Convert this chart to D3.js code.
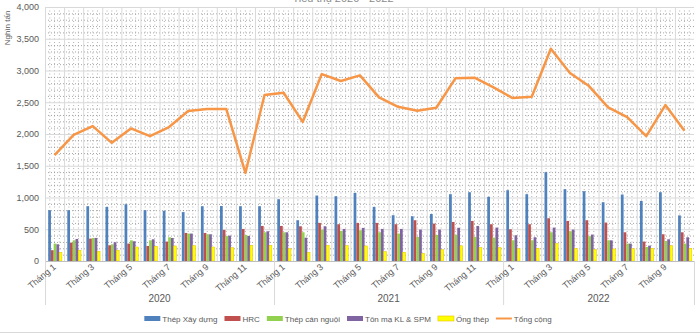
<!DOCTYPE html>
<html><head><meta charset="utf-8">
<script src="https://cdn.jsdelivr.net/npm/d3@7"></script>
<style>
body{margin:0;background:#fff;}
svg{display:block;font-family:"Liberation Sans", Arial, sans-serif;}
</style>
</head><body>
<svg id="c" width="700" height="333"></svg>
<script>
// ---- DATA ----
const years = ["2020", "2021", "2022"];
const monthsPerYear = [12, 12, 10];
const months = [
  "Tháng 1","Tháng 2","Tháng 3","Tháng 4","Tháng 5","Tháng 6","Tháng 7","Tháng 8","Tháng 9","Tháng 10","Tháng 11","Tháng 12",
  "Tháng 1","Tháng 2","Tháng 3","Tháng 4","Tháng 5","Tháng 6","Tháng 7","Tháng 8","Tháng 9","Tháng 10","Tháng 11","Tháng 12",
  "Tháng 1","Tháng 2","Tháng 3","Tháng 4","Tháng 5","Tháng 6","Tháng 7","Tháng 8","Tháng 9","Tháng 10"
];
const tickLabels = ["Tháng 1","Tháng 3","Tháng 5","Tháng 7","Tháng 9","Tháng 11"];
const yTicks = [0, 500, 1000, 1500, 2000, 2500, 3000, 3500, 4000];
const seriesNames = ["Thép Xây dựng", "HRC", "Thép cán nguội", "Tôn mạ KL & SPM", "Ống thép"];
const lineName = "Tổng cộng";

const thepXayDung = [800,800,863,852,894,800,789,770,863,866,863,863,
                     973,642,1031,1020,1072,852,721,705,741,1052,1083,1010,
                     1115,1052,1399,1131,1099,926,1047,946,1083,718];
const hrc = [170,290,353,248,274,237,306,442,442,490,505,552,
             552,547,600,579,600,600,579,642,589,615,631,579,
             500,579,673,631,642,605,452,306,421,452];
const thepCanNguoi = [274,326,363,263,326,326,374,432,421,392,410,452,
                      452,452,495,473,484,452,432,379,410,415,379,369,
                      326,326,452,468,390,326,274,221,316,274];
const tonMa = [263,347,363,295,311,342,363,432,421,400,395,468,
               452,367,547,505,521,505,505,495,495,523,552,526,
               405,374,526,495,416,326,274,242,342,374];
const ongThep = [137,169,153,169,221,232,237,242,221,211,247,247,
                 195,137,247,242,237,148,137,121,179,240,211,211,
                 195,200,274,195,179,190,195,200,242,200];
const tongCong = [1667,1987,2124,1861,2088,1966,2110,2361,2392,2392,1388,2615,
                  2650,2190,2944,2834,2923,2577,2429,2366,2413,2876,2886,2734,
                  2566,2587,3343,2960,2755,2419,2266,1966,2455,2050];

const colors = ["#4F81BD", "#C0504D", "#92D050", "#8064A2", "#FFFF00"];
const lineColor = "#F79646";

// ---- LAYOUT ----
const svg = d3.select("#c");
const pLeft = 45, pRight = 694, pTop = 7, pBottom = 261;
const n = months.length;
const idx = d3.range(n);
const seriesData = [thepXayDung, hrc, thepCanNguoi, tonMa, ongThep];

const x = d3.scaleBand().domain(idx).range([pLeft, pRight]).padding(0);
const bw = x.bandwidth();
const x1 = d3.scaleBand().domain(d3.range(seriesData.length)).range([3.2, bw - 2.2]).padding(0);
const y = d3.scaleLinear().domain([0, 4000]).range([pBottom, pTop]);

// title (cut off at top in reference)
svg.append("text").attr("x", 343).attr("y", 1.5).attr("text-anchor", "middle")
  .attr("font-size", 11).attr("fill", "#8c8c8c").text("Tiêu thụ 2020 - 2022");

// minor grid: horizontal dotted every 100
const g = svg.append("g");
g.selectAll(".hmin").data(d3.range(100, 4000, 100).filter(v => v % 500 !== 0)).join("line")
  .attr("x1", pLeft).attr("x2", pRight).attr("y1", d => y(d) + 0.5).attr("y2", d => y(d) + 0.5)
  .attr("stroke", "#7f7f7f").attr("stroke-width", 0.7).attr("stroke-dasharray", "1,2");
// vertical dotted subdivisions
const sub = [];
idx.forEach(i => { [0.25, 0.5, 0.75].forEach(f => sub.push(x(i) + f * bw)); });
g.selectAll(".vmin").data(sub).join("line")
  .attr("x1", d => d).attr("x2", d => d).attr("y1", pTop).attr("y2", pBottom)
  .attr("stroke", "#7f7f7f").attr("stroke-width", 0.6).attr("stroke-dasharray", "1,2.5");
// vertical category lines
g.selectAll(".vcat").data(idx).join("line")
  .attr("x1", d => x(d) + 0.5).attr("x2", d => x(d) + 0.5).attr("y1", pTop).attr("y2", pBottom)
  .attr("stroke", "#d9d9d9").attr("stroke-width", 1);
// major horizontal grid
g.selectAll(".hmaj").data(yTicks.slice(1)).join("line")
  .attr("x1", pLeft).attr("x2", pRight).attr("y1", d => y(d) + 0.5).attr("y2", d => y(d) + 0.5)
  .attr("stroke", "#d9d9d9").attr("stroke-width", 1);

// y axis labels
const yAxis = d3.axisLeft(y).tickValues(yTicks).tickSize(0).tickPadding(6).tickFormat(d3.format(","));
const ya = svg.append("g").attr("transform", `translate(${pLeft},0)`).call(yAxis);
ya.select(".domain").remove();
ya.selectAll("text").attr("font-size", 9).attr("fill", "#595959").attr("font-family", "Liberation Sans, Arial, sans-serif");

// y title
svg.append("text").attr("transform", "translate(10,28) rotate(-90)").attr("text-anchor", "middle")
  .attr("font-size", 8).attr("fill", "#595959").text("Nghìn tấn");

// bars
seriesData.forEach((arr, s) => {
  svg.append("g").selectAll("rect").data(arr).join("rect")
    .attr("x", (d, i) => x(i) + x1(s))
    .attr("width", x1.bandwidth())
    .attr("y", d => y(d))
    .attr("height", d => y(0) - y(d))
    .attr("fill", colors[s])
    .attr("stroke", s === 4 ? "#E8C000" : "none").attr("stroke-width", s === 4 ? 0.5 : 0);
});

// x axis line
svg.append("line").attr("x1", pLeft).attr("x2", pRight).attr("y1", pBottom + 0.5).attr("y2", pBottom + 0.5)
  .attr("stroke", "#bfbfbf");

// year group separators
let bounds = [0];
monthsPerYear.forEach(m => bounds.push(bounds[bounds.length - 1] + m));
const bx = b => (b < n ? x(b) : pRight);
svg.selectAll(".ysep").data(bounds).join("line")
  .attr("x1", d => bx(d) + 0.5).attr("x2", d => bx(d) + 0.5)
  .attr("y1", pBottom).attr("y2", 305).attr("stroke", "#d9d9d9");
svg.selectAll(".ylab").data(years).join("text")
  .attr("x", (d, i) => (bx(bounds[i]) + bx(bounds[i + 1])) / 2)
  .attr("y", 302).attr("text-anchor", "middle").attr("font-size", 10).attr("fill", "#595959").text(d => d);

// x tick labels
svg.append("g").selectAll("text").data(idx.filter(i => tickLabels.includes(months[i]))).join("text")
  .attr("transform", i => `translate(${x(i) + bw / 2 + 2},${pBottom + 7}) rotate(-40)`)
  .attr("text-anchor", "end").attr("font-size", 9).attr("fill", "#595959").text(i => months[i]);

// line
const line = d3.line().x((d, i) => x(i) + bw / 2).y(d => y(d));
svg.append("path").datum(tongCong).attr("d", line).attr("fill", "none")
  .attr("stroke", lineColor).attr("stroke-width", 2.5).attr("stroke-linejoin", "round");

// legend
const legend = svg.append("g");
let lx = 0;
const gap = 7;
const items = seriesNames.map((nm, i) => ({ name: nm, color: colors[i], type: "bar" }))
  .concat([{ name: lineName, color: lineColor, type: "line" }]);
items.forEach(it => {
  const gi = legend.append("g").attr("transform", `translate(${lx},0)`);
  if (it.type === "bar") {
    gi.append("rect").attr("x", 0).attr("y", -3).attr("width", 16).attr("height", 5).attr("fill", it.color)
      .attr("stroke", it.color === "#FFFF00" ? "#E8C000" : "none").attr("stroke-width", 0.6);
  } else {
    gi.append("line").attr("x1", 0).attr("x2", 16).attr("y1", -0.5).attr("y2", -0.5)
      .attr("stroke", it.color).attr("stroke-width", 2);
  }
  const t = gi.append("text").attr("x", 18).attr("y", 3).attr("font-size", 8).attr("fill", "#595959").text(it.name);
  lx += 18 + t.node().getComputedTextLength() + gap;
});
legend.attr("transform", `translate(${348 - (lx - gap) / 2},319)`);

// bottom border
svg.append("line").attr("x1", 0).attr("x2", 700).attr("y1", 332.5).attr("y2", 332.5).attr("stroke", "#d9d9d9");
</script>
</body></html>
